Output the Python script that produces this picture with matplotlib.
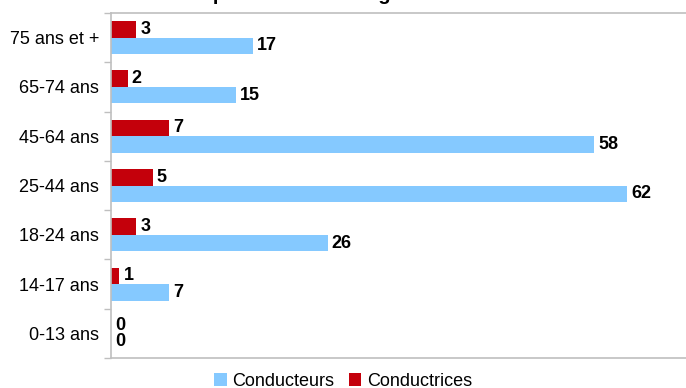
import matplotlib
matplotlib.use("Agg")
import matplotlib.pyplot as plt
import numpy as np

plt.rcParams['font.family'] = ['Liberation Sans', 'DejaVu Sans']

categories = ["0-13 ans", "14-17 ans", "18-24 ans", "25-44 ans", "45-64 ans", "65-74 ans", "75 ans et +"]
conducteurs = [0, 7, 26, 62, 58, 15, 17]
conductrices = [0, 1, 3, 5, 7, 2, 3]

blue = "#85C9FF"
red = "#C4000B"
grey = "#BFBFBF"

fig = plt.figure(figsize=(6.86, 3.88), dpi=100)
ax = fig.add_axes([111/686, 30/388, 1 - 111/686 + 0.002, 345/388])

y = np.arange(len(categories))
h = 0.335
b1 = ax.barh(y - h/2, conducteurs, height=h, color=blue, label="Conducteurs")
b2 = ax.barh(y + h/2, conductrices, height=h, color=red, label="Conductrices")

for bars, vals in ((b1, conducteurs), (b2, conductrices)):
    for bar, v in zip(bars, vals):
        ax.annotate(str(v), (v, bar.get_y() + bar.get_height()/2),
                    xytext=(3, 0), textcoords="offset points",
                    va="center", ha="left", fontsize=13, fontweight="bold")

ax.set_xlim(0, 69.2)
ax.set_ylim(-0.5, len(categories) - 0.5)
ax.set_xticks([])
ax.set_yticks(y)
ax.set_yticklabels(categories, fontsize=13)
ax.set_yticks(np.arange(-0.5, len(categories)), minor=True)
ax.tick_params(axis="y", which="major", length=0, pad=8.5)
ax.tick_params(axis="y", which="minor", length=5, color=grey, width=1)
for s in ("left", "top", "bottom"):
    ax.spines[s].set_color(grey)
    ax.spines[s].set_linewidth(1.2)
ax.spines["right"].set_visible(False)

handles = [b1, b2]
fig.legend(handles, ["Conducteurs", "Conductrices"], loc="center",
           bbox_to_anchor=(0.5, 7/388), ncol=2, frameon=False, fontsize=13,
           handlelength=0.7, handleheight=0.7, handletextpad=0.3, columnspacing=0.8)

fig.text(0.5, 1 + 0.5/388, "Répartition selon l'âge et le sexe", ha="center",
         va="baseline", fontsize=14.5, fontweight="bold")

fig.savefig("out.png", dpi=100)
